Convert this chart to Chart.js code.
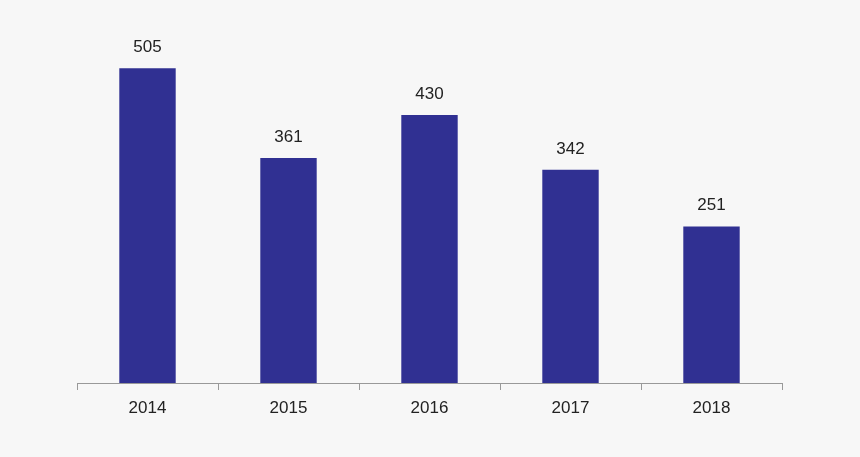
<!DOCTYPE html>
<html>
<head>
<meta charset="utf-8">
<script src="https://cdn.jsdelivr.net/npm/chart.js@4"></script>
<style>
  html, body { margin: 0; padding: 0; background: #f7f7f7; }
  #wrap { width: 860px; height: 457px; }
</style>
</head>
<body>
<div id="wrap"><canvas id="chart"></canvas></div>
<script>
const years = ['2014', '2015', '2016', '2017', '2018'];
const values = [505, 361, 430, 342, 251];

// draws the value over each bar
const valueLabels = {
    id: 'valueLabels',
    afterDatasetsDraw(chart) {
        const ctx = chart.ctx;
        const meta = chart.getDatasetMeta(0);
        ctx.save();
        ctx.font = '17px "Liberation Sans", Arial, sans-serif';
        ctx.fillStyle = '#222';
        ctx.textAlign = 'center';
        ctx.textBaseline = 'middle';
        meta.data.forEach((bar, i) => {
            ctx.fillText(values[i], bar.x, bar.y - 21);
        });
        ctx.restore();
    }
};

new Chart(document.getElementById('chart'), {
    type: 'bar',
    data: {
        labels: years,
        datasets: [{
            data: values,
            backgroundColor: '#303092',
            barPercentage: 0.4,
            categoryPercentage: 1.0
        }]
    },
    options: {
        responsive: true,
        maintainAspectRatio: false,
        animation: false,
        layout: { padding: { left: 77, right: 78, top: 9, bottom: 0 } },
        plugins: { legend: { display: false }, tooltip: { enabled: false } },
        scales: {
            x: {
                grid: { offset: true, drawOnChartArea: false, tickLength: 7, color: '#999' },
                border: { color: '#999' },
                ticks: { color: '#222', font: { size: 17, family: '"Liberation Sans", Arial, sans-serif' }, padding: 8 },
                afterFit(scale) { scale.height = 74; }
            },
            y: { display: false, min: 0, max: 600 }
        }
    },
    plugins: [valueLabels]
});
</script>
</body>
</html>
